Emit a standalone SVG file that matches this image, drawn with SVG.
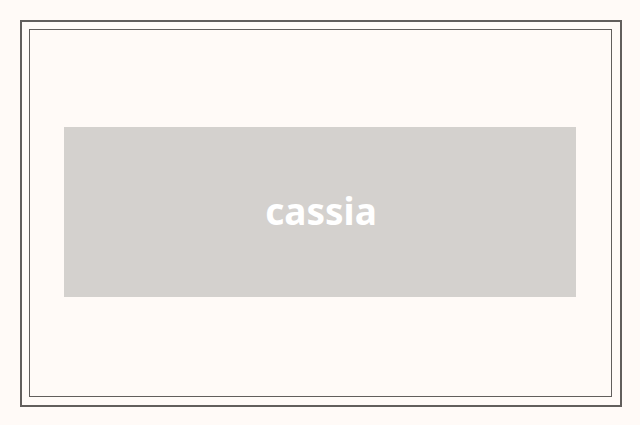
<svg xmlns="http://www.w3.org/2000/svg" width="640" height="425" viewBox="0 0 640 425">
<style>
.frame{fill:none;stroke:#625e5c}
.label{font-family:"Noto Sans","Open Sans",sans-serif;font-weight:700;font-size:37px;fill:#ffffff;text-anchor:middle}
</style>
<rect x="0" y="0" width="640" height="425" fill="#fffaf7"/>
<rect class="frame" x="21" y="21" width="600" height="385" stroke-width="2"/>
<rect class="frame" x="29.5" y="29.5" width="582" height="367" stroke-width="1"/>
<g id="cassia">
<rect x="64" y="127" width="512" height="170" fill="#d4d1ce"/>
<text class="label" x="321" y="225">cassia</text>
</g>
<g id="connectors"></g>
</svg>
